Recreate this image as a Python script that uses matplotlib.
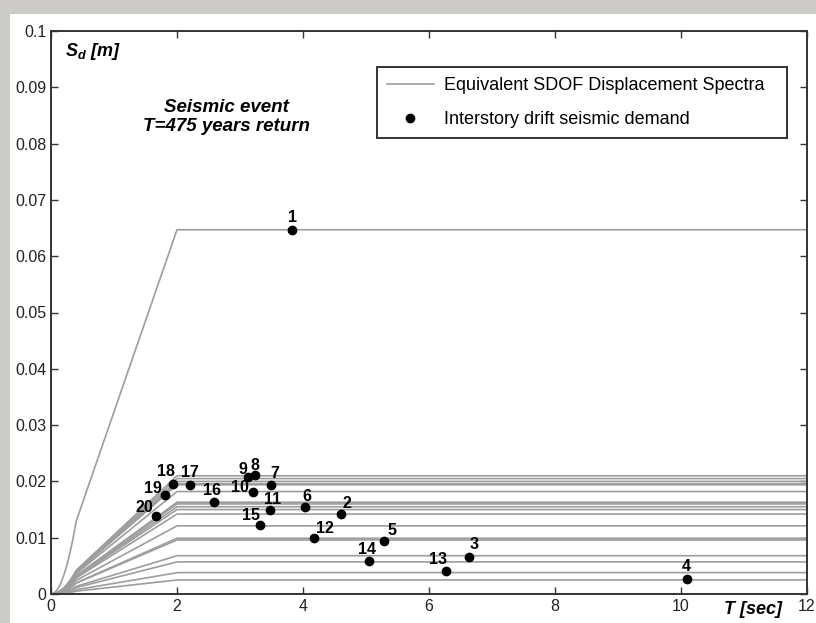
import numpy as np
import matplotlib.pyplot as plt
from matplotlib.patches import Rectangle

plt.rcParams['font.family'] = 'Liberation Sans'
plt.rcParams['mathtext.fontset'] = 'custom'
plt.rcParams['mathtext.it'] = 'Liberation Sans:italic:bold'
plt.rcParams['mathtext.rm'] = 'Liberation Sans:bold'

# storey demand points: label, period T [sec], displacement Sd [m]
storey = [1, 2, 3, 4, 5, 6, 7, 8, 9, 10, 11, 12, 13, 14, 15, 16, 17, 18, 19, 20]
T_dem = [3.83, 4.60, 6.63, 10.09, 5.29, 4.03, 3.49, 3.24, 3.13, 3.20,
         3.48, 4.18, 6.27, 5.04, 3.31, 2.58, 2.21, 1.94, 1.81, 1.67]
Sd_dem = [0.0647, 0.0142, 0.0066, 0.0027, 0.0095, 0.0154, 0.0194, 0.0211, 0.0207, 0.0181,
          0.0149, 0.0099, 0.0041, 0.0059, 0.0122, 0.0164, 0.0194, 0.0195, 0.0176, 0.0139]

# plateau displacement of each equivalent SDOF spectrum
Sd_plateau = [0.0647, 0.0142, 0.0068, 0.0025, 0.0096, 0.0155, 0.0196, 0.0210, 0.0205, 0.0182,
              0.0150, 0.0099, 0.0038, 0.0057, 0.0121, 0.0163, 0.0194, 0.0200, 0.0195, 0.0160]

# label offsets in pixels (dx, dy)
lab_off = [(0, 12), (6, 11), (5, 12), (0, 12), (8, 10), (2, 11), (4, 11), (0, 10), (-5, 8), (-13, 5),
           (2, 11), (11, 10), (-8, 11), (-2, 11), (-9, 10), (-2, 11), (0, 12), (-7, 13), (-12, 6), (-12, 8)]

TC = 0.4
TD = 2.0
T = np.linspace(0, 12, 1201)


def spectrum_shape(t):
    # parabolic up to TC, linear up to TD, constant afterwards
    return np.where(t < TC, t**2 / (TC * TD), np.where(t < TD, t / TD, 1.0))


fig = plt.figure(figsize=(8.16, 6.23), dpi=100, facecolor='#cdcbc8')
fig.patches.append(Rectangle((10 / 816, 0), 1, 1 - 14 / 623, transform=fig.transFigure,
                             facecolor='white', edgecolor='none', zorder=-10))
ax = fig.add_axes([51 / 816, 29 / 623, 756 / 816, 563 / 623])

for i, p in enumerate(Sd_plateau):
    ax.plot(T, p * spectrum_shape(T), color='#9d9d9d', lw=1.2,
            label='Equivalent SDOF Displacement Spectra' if i == 0 else None)

ax.plot(T_dem, Sd_dem, 'o', color='black', ms=6, label='Interstory drift seismic demand')

for n, x, y, off in zip(storey, T_dem, Sd_dem, lab_off):
    ax.annotate(str(n), (x, y), xytext=off, textcoords='offset pixels',
                ha='center', va='center', fontsize=11.5, fontweight='bold')

ax.set_xlim(0, 12)
ax.set_ylim(0, 0.1)
ax.set_xticks(np.arange(0, 13, 2))
ax.set_yticks(np.arange(0, 0.101, 0.01))
ax.set_yticklabels(['0', '0.01', '0.02', '0.03', '0.04', '0.05', '0.06', '0.07', '0.08', '0.09', '0.1'])
ax.tick_params(direction='in', top=True, right=True, length=5, width=1,
               labelsize=11.5, labelcolor='#222222', color='#333333')
for s in ax.spines.values():
    s.set_linewidth(1.4)
    s.set_color('#333333')

ax.text(0.0185, 0.963, r'$S_d$ [m]', transform=ax.transAxes, fontsize=13,
        fontstyle='italic', fontweight='bold', ha='left', va='center')
ax.text(0.2315, 0.848, 'Seismic event\nT=475 years return', transform=ax.transAxes,
        fontsize=13.5, fontstyle='italic', fontweight='bold', ha='center', va='center',
        linespacing=1.15)
fig.text(753 / 816, 1 - 610 / 623, 'T [sec]', fontsize=13, fontstyle='italic',
         fontweight='bold', ha='center', va='center')

leg = ax.legend(loc='upper left', bbox_to_anchor=(0.431, 0.80, 0.543, 0.136), mode='expand',
                fontsize=13, frameon=True, fancybox=False, framealpha=1, edgecolor='#333333',
                handlelength=2.6, handletextpad=0.55, labelspacing=0.95, borderpad=0.55,
                borderaxespad=0)
leg.get_frame().set_linewidth(1.4)

fig.savefig('out.png', dpi=100, facecolor=fig.get_facecolor())
